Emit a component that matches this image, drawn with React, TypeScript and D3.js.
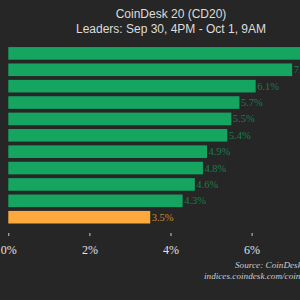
import { useEffect, useRef } from 'react';
import * as d3 from 'd3';

// leaders, top to bottom (names are cut off in the picture)
const ranks = ['1', '2', '3', '4', '5', '6', '7', '8', '9', '10', '11'];
const gains = [8.2, 7.0, 6.1, 5.7, 5.5, 5.4, 4.9, 4.8, 4.6, 4.3, 3.5];
const highlight = [false, false, false, false, false, false, false, false, false, false, true];
const xTicks = [0, 2, 4, 6];

const App = () => {
  const svgRef = useRef<SVGSVGElement>(null);

  useEffect(() => {
    const width = 300;
    const height = 300;
    const svg = d3.select(svgRef.current)
      .attr('width', width)
      .attr('height', height);
    svg.selectAll('*').remove();

    svg.append('rect')
      .attr('width', width)
      .attr('height', height)
      .attr('fill', '#262626');

    const x = d3.scaleLinear()
      .domain([0, 6])
      .range([8.3, 251.6]);

    const y = d3.scaleBand()
      .domain(ranks)
      .range([45.2, 225.4])
      .paddingInner(0.23)
      .paddingOuter(0.115);

    const rows = ranks.map((r, i) => ({ r, v: gains[i], hl: highlight[i] }));

    svg.selectAll('.bar')
      .data(rows)
      .enter().append('rect')
      .attr('class', 'bar')
      .attr('x', x(0))
      .attr('y', d => y(d.r)!)
      .attr('width', d => x(d.v) - x(0))
      .attr('height', y.bandwidth())
      .attr('fill', d => d.hl ? '#fba83c' : '#16a461');

    svg.selectAll('.lbl')
      .data(rows)
      .enter().append('text')
      .attr('class', 'lbl')
      .attr('x', d => x(d.v) + 1.5)
      .attr('y', d => y(d.r)! + y.bandwidth() / 2 + 3.5)
      .attr('fill', d => d.hl ? '#c98a2f' : '#1a7c4d')
      .style('font-family', "Georgia, 'Liberation Serif', serif")
      .style('font-size', '10.5px')
      .text(d => d.v.toFixed(1) + '%');

    const axis = svg.append('g')
      .attr('transform', 'translate(0,233)')
      .call(d3.axisBottom(x).tickValues(xTicks).tickSize(3).tickFormat(d => d + '%'));
    axis.select('.domain').remove();
    axis.selectAll('line').attr('stroke', '#cccccc');
    axis.selectAll('text')
      .attr('fill', '#e0e0e0')
      .attr('dy', null)
      .attr('y', 21)
      .style('font-family', "Georgia, 'Liberation Serif', serif")
      .style('font-size', '12px');

    svg.append('text')
      .attr('x', 171)
      .attr('y', 18)
      .attr('text-anchor', 'middle')
      .attr('fill', '#dddddd')
      .style('font-family', "'Liberation Sans', Arial, sans-serif")
      .style('font-size', '12px')
      .text('CoinDesk 20 (CD20)');

    svg.append('text')
      .attr('x', 171)
      .attr('y', 33)
      .attr('text-anchor', 'middle')
      .attr('fill', '#dddddd')
      .style('font-family', "'Liberation Sans', Arial, sans-serif")
      .style('font-size', '12px')
      .text('Leaders: Sep 30, 4PM - Oct 1, 9AM');

    const src = svg.append('g')
      .style('font-family', "Georgia, 'Liberation Serif', serif")
      .style('font-size', '9.2px')
      .style('font-style', 'italic')
      .attr('fill', '#cccccc');
    src.append('text').attr('x', 235).attr('y', 268).text('Source: CoinDesk Indices');
    src.append('text').attr('x', 204).attr('y', 279).text('indices.coindesk.com/coindesk-20');
  }, []);

  return (
    <div style={{ position: 'absolute', left: 0, top: 0 }}>
      <svg ref={svgRef} style={{ display: 'block' }}></svg>
    </div>
  );
};

export default App;
